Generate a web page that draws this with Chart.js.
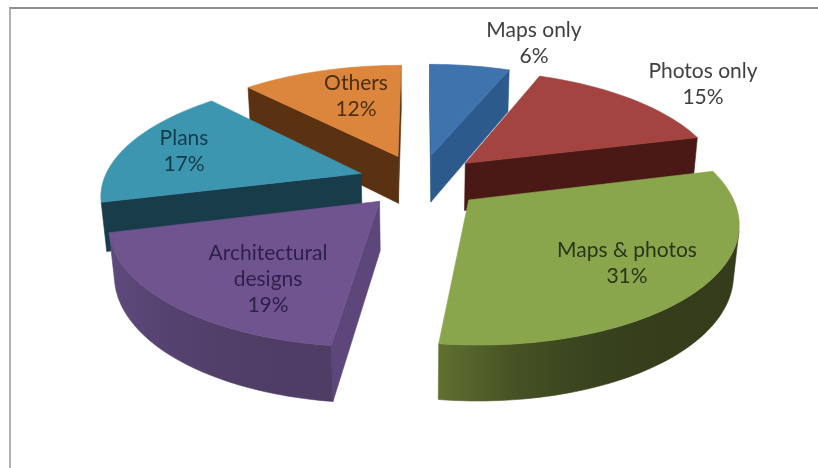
<!DOCTYPE html>
<html><head><meta charset="utf-8">
<style>
html,body{margin:0;padding:0;background:#fff;overflow:hidden}
#frame{position:absolute;left:9px;top:7px;width:809px;height:461px;border-left:2px solid #b0b0b0;border-top:2px solid #8e8e8e;box-sizing:border-box}
#c{position:absolute;left:0;top:0}
</style>
<script src="https://cdn.jsdelivr.net/npm/chart.js@4"></script>
</head><body>
<div id="frame"></div>
<canvas id="c" width="818" height="468"></canvas>
<script>
const categories = ["Maps only", "Photos only", "Maps & photos", "Architectural designs", "Plans", "Others"];
const shares = [6, 15, 31, 19, 17, 12];

const topColors  = ["#3f73ad", "#a34440", "#8aa64c", "#70548f", "#3d96b0", "#dc853c"];
const cutColors  = ["#2d5a8c", "#4a1915", "#5f7030", "#5c467a", "#183c4a", "#5a3212"];
const sideFrom   = ["#2d5a8c", "#4a1915", "#343c1b", "#4f3d66", "#1b4555", "#5a3212"];
const sideTo     = ["#2d5a8c", "#4a1915", "#5f7030", "#5f4a7d", "#1b4555", "#5a3212"];
const explode    = [0.25, 0.25, 0.255, 0.24, 0.25, 0.25];
const labelLines = [["Maps only"], ["Photos only"], ["Maps & photos"], ["Architectural", "designs"], ["Plans"], ["Others"]];
const labelAt    = [[534, 30], [703, 71], [627, 250], [268, 253], [184, 138], [356, 83]];
const labelInk   = ["#404040", "#404040", "#27361b", "#2e1f4a", "#173a4a", "#4a2f10"];

const view = { x0: 420, y0: 181, focal: 1388, dist: 5.6, tilt: 26.2 * Math.PI / 180, radius: 1.04, depth: 0.22 };

function project(X, Y, Z) {
  const s = Math.sin(view.tilt), c = Math.cos(view.tilt);
  const yc = Y * s + Z * c, zc = Y * c - Z * s + view.dist;
  return [view.x0 + view.focal * X / zc, view.y0 - view.focal * yc / zc];
}
function hex(h) { return [1, 3, 5].map(i => parseInt(h.substr(i, 2), 16)); }
function mix(a, b, t) {
  const p = hex(a), q = hex(b);
  return "rgb(" + p.map((v, i) => Math.round(v + (q[i] - v) * t)).join(",") + ")";
}
function fillPoly(ctx, pts, color) {
  ctx.beginPath();
  pts.forEach((p, i) => i ? ctx.lineTo(p[0], p[1]) : ctx.moveTo(p[0], p[1]));
  ctx.closePath();
  ctx.fillStyle = color; ctx.strokeStyle = color; ctx.lineWidth = 0.6;
  ctx.fill(); ctx.stroke();
}
function facing(q) {
  let a = 0;
  q.forEach((p, i) => { const n = q[(i + 1) % q.length]; a += p[0] * n[1] - n[0] * p[1]; });
  return a < 0;
}

const pie3d = {
  id: "pie3d",
  beforeDatasetDraw(chart, args) {
    const ctx = chart.ctx, arcs = chart.getDatasetMeta(args.index).data;
    const slices = arcs.map((arc, i) => {
      const a0 = arc.startAngle + Math.PI / 2, a1 = arc.endAngle + Math.PI / 2, mid = (a0 + a1) / 2;
      const ox = explode[i] * Math.sin(mid), oy = explode[i] * Math.cos(mid);
      const n = Math.max(8, Math.round((a1 - a0) * 40));
      const rim = [];
      for (let k = 0; k <= n; k++) {
        const t = a0 + (a1 - a0) * k / n;
        rim.push([ox + view.radius * Math.sin(t), oy + view.radius * Math.cos(t)]);
      }
      return { i, rim, apex: [ox, oy], order: project(ox, oy, 0)[1] };
    }).sort((p, q) => p.order - q.order);

    slices.forEach(s => {
      const up = p => project(p[0], p[1], 0), dn = p => project(p[0], p[1], -view.depth);
      const last = s.rim[s.rim.length - 1];
      [[s.apex, s.rim[0]], [last, s.apex]].forEach(e => {
        const q = [up(e[0]), up(e[1]), dn(e[1]), dn(e[0])];
        if (facing(q)) fillPoly(ctx, q, cutColors[s.i]);
      });
      const seen = [];
      for (let k = 0; k < s.rim.length - 1; k++) {
        if (facing([up(s.rim[k]), up(s.rim[k + 1]), dn(s.rim[k + 1]), dn(s.rim[k])])) {
          if (!seen.length) seen.push(s.rim[k]);
          seen.push(s.rim[k + 1]);
        }
      }
      if (seen.length) {
        const poly = seen.map(up).concat(seen.slice().reverse().map(dn));
        const a = up(seen[0]), b = up(seen[seen.length - 1]);
        const g = ctx.createLinearGradient(a[0], 0, b[0], 0);
        [0, 0.25, 0.5, 0.75, 1].forEach(t => g.addColorStop(t, mix(sideFrom[s.i], sideTo[s.i], t * t * t)));
        fillPoly(ctx, poly, g);
      }
      fillPoly(ctx, [s.apex].concat(s.rim).map(up), topColors[s.i]);
    });
    return false;
  },
  afterDatasetsDraw(chart) {
    const ctx = chart.ctx;
    ctx.font = '21px Lato, "Open Sans", sans-serif';
    ctx.textAlign = "center"; ctx.textBaseline = "middle";
    shares.forEach((v, i) => {
      ctx.fillStyle = labelInk[i];
      labelLines[i].concat([v + "%"]).forEach((t, k) => {
        ctx.fillText(t, labelAt[i][0], labelAt[i][1] + k * 26);
      });
    });
  }
};

new Chart(document.getElementById("c"), {
  type: "pie",
  data: { labels: categories, datasets: [{ data: shares, backgroundColor: topColors, borderWidth: 0 }] },
  options: {
    responsive: false, animation: false, events: [],
    plugins: { legend: { display: false }, tooltip: { enabled: false } }
  },
  plugins: [pie3d]
});
</script>
</body></html>
